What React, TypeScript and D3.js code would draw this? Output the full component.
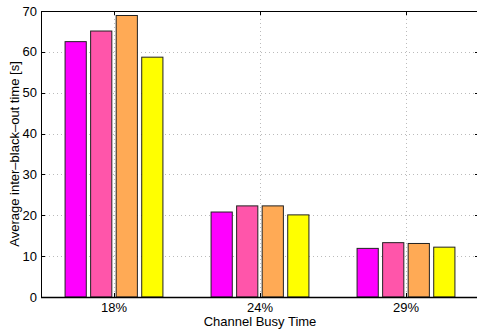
import React, { useRef, useEffect } from "react";
import * as d3 from "d3";

// values
const categories = ["18%", "24%", "29%"];
const seriesA = [62.5, 20.8, 11.9];
const seriesB = [65.1, 22.3, 13.3];
const seriesC = [68.9, 22.3, 13.1];
const seriesD = [58.7, 20.1, 12.2];
const seriesColors = ["#FF00FF", "#FF55AA", "#FFAA55", "#FFFF00"];
const yTicks = [0, 10, 20, 30, 40, 50, 60, 70];

const W = 477;
const H = 329;

const App = () => {
  const svgRef = useRef<SVGSVGElement>(null);

  useEffect(() => {
    const svg = d3.select(svgRef.current);
    svg.selectAll("*").remove();

    const margin = { top: 11, right: -2, bottom: 32, left: 41 };
    const left = margin.left;
    const right = W - margin.right;
    const top = margin.top;
    const bottom = H - margin.bottom;
    const font = "Helvetica, 'Liberation Sans', Arial, sans-serif";

    const series = [seriesA, seriesB, seriesC, seriesD];

    // categories sit at 1..3 on a linear axis from 0.5 to 3.5, like matlab
    const x = d3.scaleLinear().domain([0.5, 3.5]).range([left, right]);
    const y = d3.scaleLinear().domain([0, 70]).range([bottom, top]);

    const step = x(2) - x(1);
    const groupW = step * 0.7;
    const pitch = groupW / series.length;
    const barW = pitch * 0.83;

    const g = svg.append("g");

    // dotted grid
    yTicks.slice(1, -1).forEach((t) => {
      g.append("line")
        .attr("x1", left)
        .attr("x2", right)
        .attr("y1", Math.round(y(t)) + 0.5)
        .attr("y2", Math.round(y(t)) + 0.5)
        .attr("stroke", "#bbb")
        .attr("stroke-width", 1)
        .attr("stroke-dasharray", "1,3");
    });
    categories.forEach((_, i) => {
      const cx = Math.round(x(i + 1)) + 0.5;
      g.append("line")
        .attr("x1", cx)
        .attr("x2", cx)
        .attr("y1", top)
        .attr("y2", bottom)
        .attr("stroke", "#bbb")
        .attr("stroke-width", 1)
        .attr("stroke-dasharray", "1,3");
    });

    // bars
    series.forEach((vals, s) => {
      vals.forEach((v, i) => {
        const x0 = x(i + 1) - groupW / 2 + pitch * s + (pitch - barW) / 2;
        g.append("rect")
          .attr("x", x0)
          .attr("y", y(v))
          .attr("width", barW)
          .attr("height", y(0) - y(v))
          .attr("fill", seriesColors[s])
          .attr("stroke", "#222")
          .attr("stroke-width", 1);
      });
    });

    // frame
    g.append("rect")
      .attr("x", left + 0.5)
      .attr("y", top + 0.5)
      .attr("width", right - left)
      .attr("height", bottom - top)
      .attr("fill", "none")
      .attr("stroke", "#000")
      .attr("stroke-width", 1);
    g.append("line")
      .attr("x1", left)
      .attr("x2", right)
      .attr("y1", bottom + 0.5)
      .attr("y2", bottom + 0.5)
      .attr("stroke", "#000")
      .attr("stroke-width", 1.5);

    // y ticks (inward, both sides) and labels
    yTicks.forEach((t) => {
      const ty = Math.round(y(t)) + 0.5;
      g.append("line")
        .attr("x1", left)
        .attr("x2", left + 4)
        .attr("y1", ty)
        .attr("y2", ty)
        .attr("stroke", "#000");
      g.append("line")
        .attr("x1", right - 4)
        .attr("x2", right)
        .attr("y1", ty)
        .attr("y2", ty)
        .attr("stroke", "#000");
      g.append("text")
        .attr("x", left - 4)
        .attr("y", y(t))
        .attr("dy", "0.35em")
        .attr("text-anchor", "end")
        .attr("font-family", font)
        .attr("font-size", 13)
        .text(t);
    });

    // x ticks and labels
    categories.forEach((c, i) => {
      const cx = Math.round(x(i + 1)) + 0.5;
      g.append("line")
        .attr("x1", cx)
        .attr("x2", cx)
        .attr("y1", bottom)
        .attr("y2", bottom - 4)
        .attr("stroke", "#000");
      g.append("line")
        .attr("x1", cx)
        .attr("x2", cx)
        .attr("y1", top)
        .attr("y2", top + 4)
        .attr("stroke", "#000");
      g.append("text")
        .attr("x", x(i + 1))
        .attr("y", 312)
        .attr("text-anchor", "middle")
        .attr("font-family", font)
        .attr("font-size", 13)
        .text(c);
    });

    g.append("text")
      .attr("x", x(2))
      .attr("y", 326)
      .attr("text-anchor", "middle")
      .attr("font-family", font)
      .attr("font-size", 13)
      .text("Channel Busy Time");

    g.append("text")
      .attr("transform", `translate(19,${(top + bottom) / 2}) rotate(-90)`)
      .attr("text-anchor", "middle")
      .attr("font-family", font)
      .attr("font-size", 13)
      .text("Average inter\u2013black\u2013out time [s]");
  }, []);

  return (
    <svg
      ref={svgRef}
      width={W}
      height={H}
      style={{ position: "absolute", left: 0, top: 0, background: "#fff" }}
    />
  );
};

export default App;
